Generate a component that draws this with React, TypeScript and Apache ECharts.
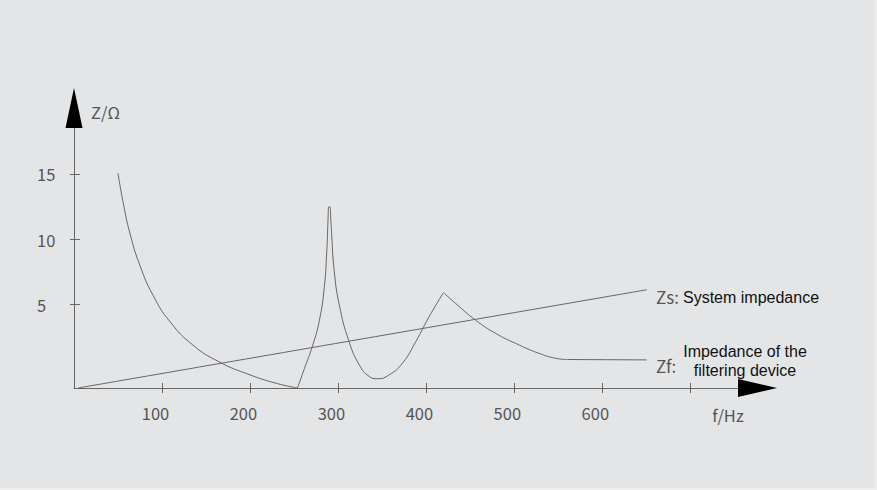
import React, { useEffect, useRef } from "react";
import * as echarts from "echarts";

const xTickValues = [100, 200, 300, 400, 500, 600, 700];
const xLabelValues = [100, 200, 300, 400, 500, 600];
const yTickValues = [5, 10, 15];
const xMin = 0;
const xMax = 777;
const yMin = -1.41;
const yMax = 20.11;

// Zs: system impedance (straight line)
const zsLine = [
  [4.5, -1.41],
  [651, 6.14],
];

// Zf: impedance of the filtering device, drawn in segments (sharp corners between them)
const zfSegA = [
  [50, 15.1], [56, 12.8], [63.5, 10.5], [75, 8.0], [90, 5.7], [109, 3.7],
  [135, 1.9], [165, 0.6], [200, -0.4], [230, -1.05], [254, -1.41],
];
const zfSegB = [
  [254, -1.41], [262, 0.1], [271, 1.8], [279, 3.8],
  [284.5, 6.3], [287.2, 8.9], [288.7, 11.4], [289.2, 12.5],
];
const zfSegC = [
  [289.2, 12.5], [291.3, 12.5],
];
const zfSegD = [
  [291.3, 12.5], [292.9, 10.4], [295.8, 7.6], [301.5, 5.0], [312.5, 2.2],
  [324.3, 0.37], [335.6, -0.52], [345, -0.7], [358.3, -0.4], [373.4, 0.5],
  [388.5, 2.15], [403.6, 4.06], [420, 5.92],
];
const zfSegE = [
  [420, 5.92], [434, 5.08], [456.6, 3.8], [479.3, 2.79], [502, 2.02],
  [528.3, 1.26], [547, 0.88], [560, 0.78],
];
const zfSegF = [
  [560, 0.78], [651, 0.75],
];
const zfSegments = [zfSegA, zfSegB, zfSegC, zfSegD, zfSegE, zfSegF];

const grayFont = "'Noto Sans CJK SC', 'Noto Sans', sans-serif";
const latinFont = "'Liberation Sans', Arial, sans-serif";
const axisGray = "#666666";
const lineGray = "#666666";
const textGray = "#555555";

export default function App() {
  const ref = useRef<HTMLDivElement>(null);

  useEffect(() => {
    document.body.style.margin = "0";
    if (!ref.current) return;
    const chart = echarts.init(ref.current, undefined, { renderer: "svg" });

    const lineSeries = (name: string, data: number[][]) => ({
      name,
      type: "line",
      data,
      xAxisIndex: 0,
      yAxisIndex: 0,
      smooth: 0.5,
      symbol: "none",
      lineStyle: { color: lineGray, width: 1 },
      silent: true,
    });

    chart.setOption({
      animation: false,
      backgroundColor: "#e4e5e7",
      grid: { left: 74, right: 117.5, top: 108, bottom: 100, outerBoundsMode: "none" },
      xAxis: [
        {
          type: "value",
          min: xMin,
          max: xMax,
          position: "bottom",
          splitLine: { show: false },
          axisLine: { onZero: false, lineStyle: { color: axisGray, width: 1 } },
          axisTick: { show: true, length: 5, customValues: xTickValues, lineStyle: { color: axisGray, width: 1 } },
          axisLabel: {
            customValues: xLabelValues,
            margin: 17,
            color: textGray,
            fontSize: 16.5,
            fontFamily: grayFont,
            padding: [0, 13, 0, 0],
          },
        },
        {
          type: "value",
          min: xMin,
          max: xMax,
          position: "bottom",
          splitLine: { show: false },
          axisLine: {
            onZero: false,
            symbol: ["none", "triangle"],
            symbolSize: [18, 39],
            lineStyle: { color: "#000", width: 0 },
          },
          axisTick: { show: true, inside: true, length: 5, customValues: xTickValues, lineStyle: { color: axisGray, width: 1 } },
          axisLabel: { show: false },
        },
      ],
      yAxis: [
        {
          type: "value",
          min: yMin,
          max: yMax,
          position: "left",
          splitLine: { show: false },
          axisLine: { onZero: false, lineStyle: { color: axisGray, width: 1 } },
          axisTick: { show: true, length: 4, customValues: yTickValues, lineStyle: { color: axisGray, width: 1 } },
          axisLabel: {
            customValues: yTickValues,
            align: "left",
            margin: 37,
            color: textGray,
            fontSize: 16.5,
            fontFamily: grayFont,
          },
        },
        {
          type: "value",
          min: yMin,
          max: yMax,
          position: "left",
          splitLine: { show: false },
          axisLine: {
            onZero: false,
            symbol: ["none", "triangle"],
            symbolSize: [17, 40],
            lineStyle: { color: "#000", width: 0 },
          },
          axisTick: { show: true, inside: true, length: 6, customValues: yTickValues, lineStyle: { color: axisGray, width: 1 } },
          axisLabel: { show: false },
        },
      ],
      series: [
        lineSeries("Zs", zsLine),
        ...zfSegments.map((seg) => lineSeries("Zf", seg)),
      ],
      graphic: [
        {
          type: "text", left: 91, top: 104,
          style: { text: "Z/Ω", fill: textGray, font: `16.5px ${grayFont}` },
        },
        {
          type: "text", x: 728, y: 415,
          style: { text: "f/Hz", fill: textGray, font: `16.5px ${grayFont}`, align: "center", verticalAlign: "middle" },
        },
        {
          type: "text", x: 656, y: 296,
          style: { text: "Zs:", fill: textGray, font: `17px ${grayFont}`, verticalAlign: "middle" },
        },
        {
          type: "text", x: 683, y: 297,
          style: { text: "System impedance", fill: "#111", font: `16px ${latinFont}`, verticalAlign: "middle" },
        },
        {
          type: "text", x: 656, y: 365,
          style: { text: "Zf:", fill: textGray, font: `17px ${grayFont}`, verticalAlign: "middle" },
        },
        {
          type: "text", x: 745, y: 361,
          style: {
            text: "Impedance of the\nfiltering device",
            fill: "#111",
            font: `16px ${latinFont}`,
            lineHeight: 19,
            align: "center",
            verticalAlign: "middle",
          },
        },
      ],
    });

    return () => chart.dispose();
  }, []);

  return (
    <div style={{ position: "absolute", left: 0, top: 0, width: 877, height: 490, background: "#eeeeef" }}>
      <div ref={ref} style={{ width: 875, height: 488 }} />
    </div>
  );
}
